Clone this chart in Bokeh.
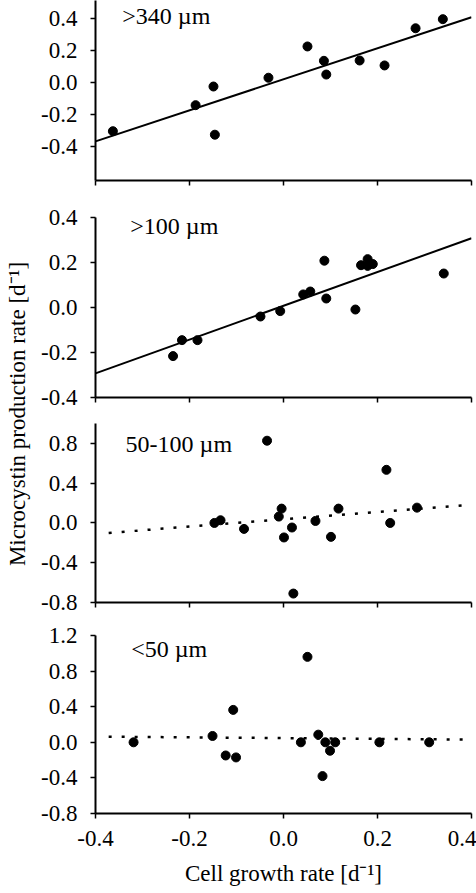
import math
from bokeh.plotting import figure
from bokeh.layouts import row, column
from bokeh.models import Range1d, FixedTicker, CustomJSTickFormatter, Label
from bokeh.core.properties import value
from bokeh.embed import file_html
from bokeh.resources import INLINE

FONT = "Liberation Serif"
FS = "23px"
FS_LAB = "24px"

x_ticks = [-0.4, -0.2, 0.0, 0.2, 0.4]
x_title = "Cell growth rate [d\u207b\u00b9]"
y_title = "Microcystin production rate [d\u207b\u00b9]"

# Panel 1: >340 um
p1_label = ">340 \u00b5m"
p1_x = [-0.363, -0.187, -0.149, -0.146, -0.032, 0.051, 0.086, 0.091, 0.162, 0.215, 0.281, 0.339]
p1_y = [-0.304, -0.141, -0.024, -0.326, 0.031, 0.227, 0.137, 0.051, 0.139, 0.108, 0.341, 0.398]
p1_fit_x = [-0.4, 0.4]
p1_fit_y = [-0.368, 0.41]
p1_yticks = [-0.4, -0.2, 0.0, 0.2, 0.4]

# Panel 2: >100 um
p2_label = ">100 \u00b5m"
p2_x = [-0.235, -0.216, -0.183, -0.049, -0.007, 0.042, 0.057, 0.087, 0.091, 0.153, 0.165, 0.179, 0.179, 0.190, 0.341]
p2_y = [-0.216, -0.145, -0.145, -0.04, -0.016, 0.058, 0.071, 0.208, 0.04, -0.009, 0.188, 0.215, 0.185, 0.193, 0.151]
p2_fit_x = [-0.4, 0.4]
p2_fit_y = [-0.293, 0.308]
p2_yticks = [-0.4, -0.2, 0.0, 0.2, 0.4]

# Panel 3: 50-100 um
p3_label = "50-100 \u00b5m"
p3_x = [-0.147, -0.134, -0.084, -0.035, -0.010, -0.004, 0.001, 0.018, 0.021, 0.068, 0.101, 0.117, 0.219, 0.227, 0.284]
p3_y = [0.0, 0.027, -0.06, 0.827, 0.064, 0.144, -0.146, -0.046, -0.71, 0.02, -0.14, 0.144, 0.534, 0.0, 0.154]
p3_fit_x = [-0.372, 0.4]
p3_fit_y = [-0.1, 0.184]
p3_yticks = [-0.8, -0.4, 0.0, 0.4, 0.8]

# Panel 4: <50 um
p4_label = "<50 \u00b5m"
p4_x = [-0.319, -0.151, -0.123, -0.107, -0.101, 0.037, 0.051, 0.074, 0.083, 0.089, 0.099, 0.110, 0.204, 0.310]
p4_y = [0.0, 0.071, -0.148, 0.364, -0.17, 0.0, 0.96, 0.086, -0.38, 0.0, -0.095, 0.0, 0.0, 0.0]
p4_fit_x = [-0.372, 0.4]
p4_fit_y = [0.063, 0.03]
p4_yticks = [-0.8, -0.4, 0.0, 0.4, 0.8, 1.2]

fmt_code = "return tick.toFixed(1);"


def panel(xs, ys, fx, fy, dotted, yr, yticks, label, lab_xy, height, btop, bbot, last=False):
    p = figure(width=438, height=height, output_backend="svg", toolbar_location=None,
               x_range=Range1d(-0.4, 0.4), y_range=Range1d(*yr),
               min_border_left=57, min_border_right=5, min_border_top=btop,
               min_border_bottom=bbot)
    p.outline_line_color = None
    p.grid.visible = False
    p.background_fill_color = "white"
    p.border_fill_color = "white"
    if dotted:
        p.line(fx, fy, line_color="black", line_width=2.5, line_dash="3 10")
    else:
        p.line(fx, fy, line_color="black", line_width=2)
    p.scatter(xs, ys, size=9, fill_color="black", line_color="black")
    for ax in (p.xaxis[0], p.yaxis[0]):
        ax.axis_line_width = 2
        ax.axis_line_color = "black"
        ax.major_tick_line_color = "black"
        ax.major_tick_line_width = 1.5
        ax.major_tick_in = 0
        ax.major_tick_out = 5
        ax.minor_tick_line_color = None
        ax.major_label_text_font = FONT
        ax.major_label_text_font_size = FS
        ax.major_label_text_color = "black"
        ax.formatter = CustomJSTickFormatter(code=fmt_code)
    p.xaxis.ticker = FixedTicker(ticks=x_ticks)
    p.yaxis.ticker = FixedTicker(ticks=yticks)
    p.yaxis.major_label_standoff = 13
    if last:
        p.xaxis.major_label_standoff = 12
        p.xaxis.axis_label = x_title
        p.xaxis.axis_label_text_font = FONT
        p.xaxis.axis_label_text_font_size = FS
        p.xaxis.axis_label_text_font_style = "normal"
        p.xaxis.axis_label_text_color = "black"
        p.xaxis.axis_label_standoff = 12
    else:
        p.xaxis.major_label_text_color = None
        p.xaxis.major_label_standoff = 0
    p.add_layout(Label(x=lab_xy[0], y=lab_xy[1], text=label, text_font=FONT,
                       text_font_size=FS_LAB, text_color="black",
                       text_align="left", text_baseline="middle"))
    return p


f1 = panel(p1_x, p1_y, p1_fit_x, p1_fit_y, False, (-0.613, 0.515), p1_yticks,
           p1_label, (-0.343, 0.42), 205, 0, 25)
f2 = panel(p2_x, p2_y, p2_fit_x, p2_fit_y, False, (-0.4, 0.4), p2_yticks,
           p2_label, (-0.326, 0.364), 206, 12, 14)
f3 = panel(p3_x, p3_y, p3_fit_x, p3_fit_y, True, (-0.8, 1.0), p3_yticks,
           p3_label, (-0.336, 0.796), 212, 12, 21)
f4 = panel(p4_x, p4_y, p4_fit_x, p4_fit_y, True, (-0.8, 1.2), p4_yticks,
           p4_label, (-0.324, 1.05), 270, 12, 80, last=True)

t = figure(width=38, height=893, output_backend="svg", toolbar_location=None,
           x_range=Range1d(0, 38), y_range=Range1d(893, 0),
           min_border=0, min_border_left=0, min_border_right=0,
           min_border_top=0, min_border_bottom=0)
t.axis.visible = False
t.grid.visible = False
t.outline_line_color = None
t.text(x=[17], y=[413.5], text=[y_title], angle=math.pi / 2,
       text_font=value(FONT), text_font_size=value(FS), text_color="black",
       text_align="center", text_baseline="middle")

layout = row(t, column(f1, f2, f3, f4))
open("out.html", "w").write(file_html(layout, INLINE))
